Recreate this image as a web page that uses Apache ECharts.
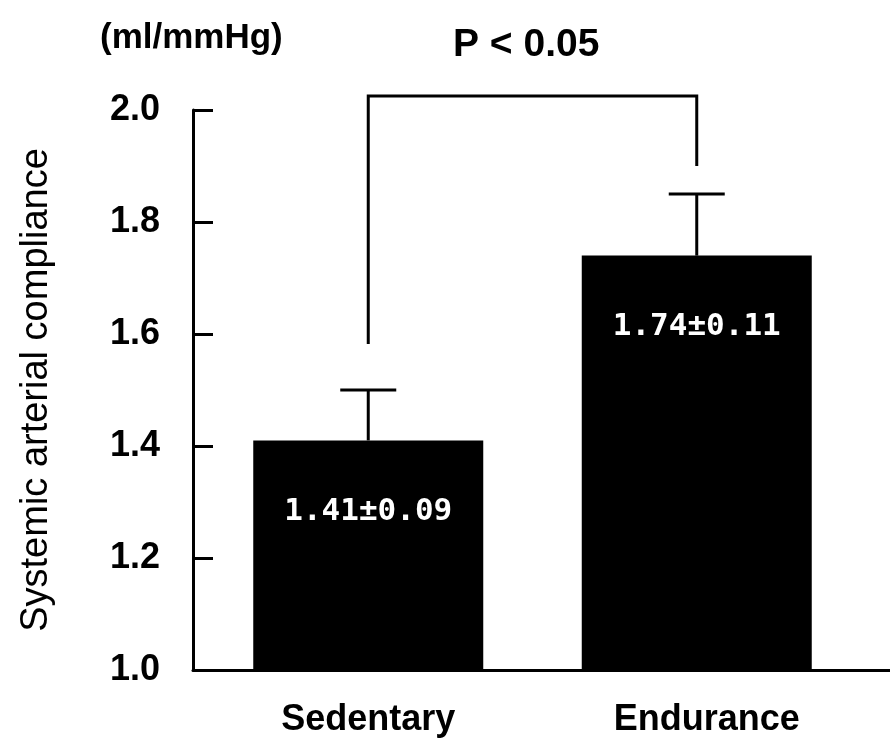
<!DOCTYPE html>
<html>
<head>
<meta charset="utf-8">
<script src="https://cdn.jsdelivr.net/npm/echarts@6/dist/echarts.min.js"></script>
<style>
html,body{margin:0;padding:0;background:#fff;}
#chart{width:890px;height:742px;}
</style>
</head>
<body>
<div id="chart"></div>
<script>
// ---- data ----
const categories = ['Sedentary', 'Endurance'];
const means = [1.41, 1.74];
const errors = [0.09, 0.11];
const yTicks = [1.0, 1.2, 1.4, 1.6, 1.8, 2.0];
const bracketTop = 2.025;
const bracketEnds = [1.582, 1.90];
const pText = 'P < 0.05';
const unitText = '(ml/mmHg)';
const yName = 'Systemic arterial compliance';

const FONT = '"Liberation Sans", Arial, sans-serif';
const chart = echarts.init(document.getElementById('chart'));

const barData = means.map((m, i) => ({
  value: m,
  label: { formatter: m.toFixed(2) + '±' + errors[i].toFixed(2) }
}));
const errData = means.map((m, i) => [i, m, m + errors[i]]);
const bracketData = [[0, bracketEnds[0], bracketTop, 1, bracketEnds[1]]];

chart.setOption({
  animation: false,
  backgroundColor: '#fff',
  grid: [
    { left: 193, right: 0, top: 110, bottom: 72 },
    { left: 204, right: 29, top: 110, bottom: 72 }
  ],
  xAxis: [
    { gridIndex: 0, type: 'category', data: categories,
      axisLine: { lineStyle: { color: '#000', width: 3 } },
      axisTick: { show: false }, axisLabel: { show: false } },
    { gridIndex: 1, type: 'category', data: categories,
      axisLine: { show: false }, axisTick: { show: false },
      axisLabel: { color: '#000', fontFamily: FONT, fontSize: 36, fontWeight: 'bold', margin: 32,
        formatter: (v, i) => i === 1 ? '{e|' + v + '}' : v,
        rich: { e: { fontFamily: FONT, fontSize: 36, fontWeight: 'bold', color: '#000', padding: [0, 0, 0, 20] } } } }
  ],
  yAxis: [
    { gridIndex: 0, type: 'value', min: yTicks[0], max: yTicks[yTicks.length - 1], interval: 0.2,
      name: yName, nameLocation: 'middle', nameRotate: 90, nameGap: 137,
      nameTextStyle: { color: '#000', fontFamily: FONT, fontSize: 38 },
      axisLine: { show: true, lineStyle: { color: '#000', width: 3 } },
      axisTick: { show: true, inside: true, length: 20, lineStyle: { color: '#000', width: 3 } },
      axisLabel: { color: '#000', fontFamily: FONT, fontSize: 36, fontWeight: 'bold', margin: 33,
        formatter: v => v.toFixed(1) },
      splitLine: { show: false } },
    { gridIndex: 1, type: 'value', min: yTicks[0], max: yTicks[yTicks.length - 1], interval: 0.2,
      show: false }
  ],
  series: [
    { type: 'bar', xAxisIndex: 1, yAxisIndex: 1, data: barData, barWidth: 230,
      itemStyle: { color: '#000' },
      label: { show: true, position: 'insideTop', distance: 56, color: '#fff',
        fontFamily: '"DejaVu Sans Mono", monospace', fontSize: 31, fontWeight: 'bold' } },
    { type: 'custom', xAxisIndex: 1, yAxisIndex: 1, data: errData, clip: false, z: 5,
      renderItem: (params, api) => {
        const base = api.coord([api.value(0), api.value(1)]);
        const top = api.coord([api.value(0), api.value(2)]);
        const st = { stroke: '#000', lineWidth: 3 };
        return { type: 'group', children: [
          { type: 'line', shape: { x1: base[0], y1: base[1], x2: top[0], y2: top[1] }, style: st },
          { type: 'line', shape: { x1: top[0] - 28, y1: top[1], x2: top[0] + 28, y2: top[1] }, style: st }
        ]};
      } },
    { type: 'custom', xAxisIndex: 1, yAxisIndex: 1, data: bracketData, clip: false, z: 5,
      renderItem: (params, api) => {
        const a = api.coord([api.value(0), api.value(1)]);
        const b = api.coord([api.value(0), api.value(2)]);
        const c = api.coord([api.value(3), api.value(2)]);
        const d = api.coord([api.value(3), api.value(4)]);
        return { type: 'polyline', shape: { points: [a, b, c, d] },
          style: { stroke: '#000', lineWidth: 3, fill: null } };
      } }
  ],
  graphic: [
    { type: 'text', left: 100, top: 21, style: { text: unitText, fill: '#000',
        font: 'bold 35px ' + FONT } },
    { type: 'text', left: 453, top: 26, style: { text: pText, fill: '#000',
        font: 'bold 39px ' + FONT } }
  ]
});
</script>
</body>
</html>
